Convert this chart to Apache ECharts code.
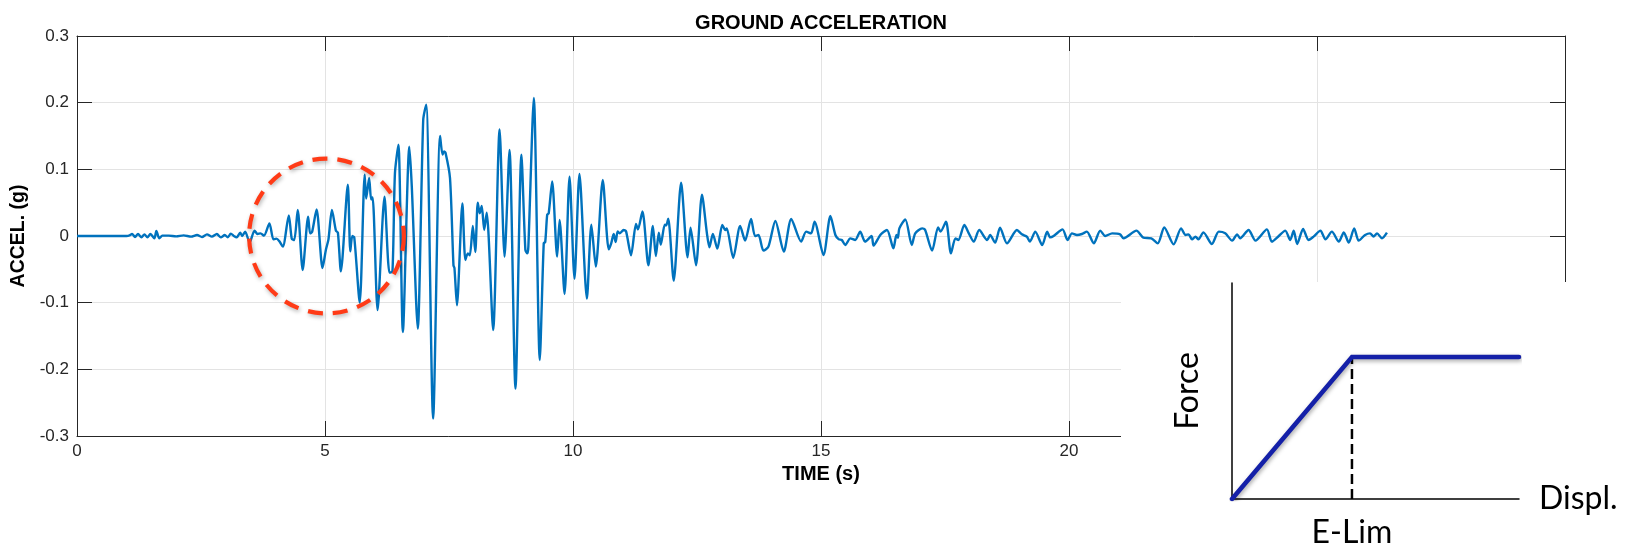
<!DOCTYPE html>
<html><head><meta charset="utf-8">
<script src="https://cdn.jsdelivr.net/npm/echarts@6/dist/echarts.min.js"></script>
<style>html,body{margin:0;padding:0;background:#fff}#c{width:1634px;height:553px}</style>
</head><body><div id="c"></div>
<script>
// ---- Ground acceleration record (time in s, acceleration in g) ----
const timeSec = [
  0, 0.90, 1.00, 1.06, 1.11, 1.17, 1.23, 1.30, 1.36, 1.42, 1.48, 1.56, 1.60, 1.66, 1.72, 1.85,
  2.00, 2.15, 2.30, 2.42, 2.52, 2.62, 2.72, 2.82, 2.90, 2.98,
  3.04, 3.10, 3.17, 3.22, 3.29, 3.33, 3.39, 3.48, 3.58, 3.64, 3.70, 3.77, 3.88, 3.96,
  4.02, 4.08, 4.15, 4.27, 4.33, 4.38, 4.45, 4.55, 4.66, 4.70, 4.74, 4.83, 4.95,
  5.02, 5.07, 5.14, 5.22, 5.26, 5.32, 5.46, 5.51, 5.55, 5.59, 5.70, 5.80, 5.83, 5.89, 5.93, 5.96,
  6.06, 6.20, 6.30, 6.36, 6.41, 6.48, 6.57, 6.70, 6.75, 6.87, 6.98,
  7.04, 7.18, 7.32, 7.37, 7.40, 7.43, 7.52, 7.59, 7.61, 7.66, 7.77, 7.83, 7.88, 7.92, 7.98,
  8.03, 8.08, 8.12, 8.16, 8.21, 8.26, 8.39, 8.52, 8.62, 8.72, 8.84, 8.96,
  9.04, 9.08, 9.10, 9.21, 9.33, 9.41, 9.44, 9.48, 9.51, 9.58, 9.68, 9.73, 9.83, 9.93,
  10.03, 10.13, 10.28, 10.37, 10.46, 10.60, 10.72, 10.77, 10.82, 10.86, 10.90, 10.94,
  11.02, 11.07, 11.17, 11.27, 11.31, 11.40, 11.52, 11.61, 11.67, 11.73, 11.77, 11.85, 11.88, 11.92,
  12.03, 12.18, 12.31, 12.37, 12.48, 12.60, 12.70, 12.75, 12.82, 12.91,
  13.01, 13.07, 13.10, 13.23, 13.37, 13.47, 13.59, 13.67, 13.74, 13.84, 13.94,
  14.08, 14.25, 14.40, 14.60, 14.70, 14.80, 14.87,
  15.05, 15.19, 15.29, 15.36, 15.42, 15.49, 15.59, 15.69, 15.79, 15.89,
  16.02, 16.06, 16.20, 16.33, 16.46, 16.52, 16.55, 16.58, 16.70, 16.83, 16.90,
  17.04, 17.10, 17.24, 17.36, 17.41, 17.52, 17.62, 17.71, 17.77, 17.89, 17.98,
  18.08, 18.19, 18.35, 18.41, 18.51, 18.61, 18.75, 18.95,
  19.05, 19.15, 19.21, 19.32, 19.46, 19.56, 19.62, 19.69, 19.87, 19.97,
  20.06, 20.16, 20.26, 20.36, 20.50, 20.63, 20.73, 20.87,
  21.03, 21.10, 21.36, 21.50, 21.66, 21.79, 21.92,
  22.11, 22.26, 22.35, 22.41, 22.48, 22.55, 22.61, 22.71, 22.88,
  23.02, 23.15, 23.29, 23.39, 23.45, 23.62, 23.76, 23.99,
  24.09, 24.23, 24.36, 24.46, 24.53, 24.60, 24.72, 24.83, 24.93,
  25.07, 25.17, 25.30, 25.44, 25.54, 25.64, 25.75, 25.84, 25.97,
  26.07, 26.14, 26.21, 26.31, 26.41
];
const accelG = [
  0, 0, 0, 0.001, 0.003, -0.0015, 0.003, -0.002, 0.0025, -0.002, 0.003, -0.0035, 0.0075, -0.0035, 0.0005, 0.0005,
  -0.0005, 0.001, -0.001, 0.0015, -0.0015, 0.0025, -0.001, 0.003, -0.002, 0.0015,
  -0.002, 0.0035, -0.0005, -0.002, 0.005, 0, 0.0065, -0.0095, 0.008, 0.003, 0.004, 0.0005, 0.019, -0.005,
  -0.004, -0.008, -0.016, 0.031, -0.004, -0.006, 0.039, -0.051, 0.029, 0.004, 0.006, 0.040, -0.048,
  -0.020, -0.005, 0.039, 0.008, 0.005, -0.053, 0.077, -0.023, 0, -0.002, -0.100, 0.092, 0.056, 0.087, 0.055, 0.058,
  -0.111, 0.059, -0.055, -0.053, 0.094, 0.137, -0.144, 0.134, 0.074, -0.139, 0.174,
  0.197, -0.274, 0.150, 0.122, 0.127, 0.125, 0.087, -0.044, -0.048, -0.104, 0.049, -0.036, -0.026, -0.029, 0.015,
  -0.024, 0.050, 0.034, 0.045, 0.009, 0.035, -0.141, 0.160, -0.031, 0.129, -0.229, 0.122,
  -0.021, -0.026, -0.016, 0.207, -0.186, -0.011, -0.009, 0.032, 0.034, 0.082, -0.031, 0.024, -0.087, 0.089,
  -0.064, 0.093, -0.094, 0.017, -0.046, 0.084, -0.020, -0.011, 0.003, -0.009, 0.007, 0.004,
  0.009, 0.007, -0.029, 0.018, 0.010, 0.037, -0.044, 0.015, -0.030, 0.005, -0.013, 0.017, 0.016, 0.026,
  -0.067, 0.080, -0.032, 0.0125, -0.044, 0.062, 0.004, -0.017, 0.003, -0.019,
  0.0165, 0.009, 0.0115, -0.033, 0.015, -0.007, 0.0255, 0, 0.0015, -0.022, -0.016,
  0.0225, -0.0235, 0.0255, -0.0085, 0.0065, 0.004, 0.0215,
  -0.0285, 0.030, 0.0015, -0.005, -0.006, -0.0135, -0.0035, -0.006, 0.0065, -0.0085,
  0, -0.0145, 0.002, 0.009, -0.0185, 0.0015, -0.0025, 0.0115, 0.025, -0.0135, 0.004,
  0.0115, 0.009, -0.022, 0.013, 0.0065, 0.0215, -0.026, -0.0035, -0.006, 0.0165, 0.004,
  -0.0085, 0.009, -0.006, 0.0015, -0.010, 0.0125, -0.011, 0.009,
  0.0025, -0.001, -0.0085, 0.0065, -0.0135, 0.0065, -0.002, 0, 0.010, -0.006,
  0.004, 0.0015, 0.003, 0.0065, -0.011, 0.008, 0, 0.004,
  0.0025, -0.0035, 0.008, -0.0025, -0.0035, -0.011, 0.013,
  -0.0125, 0.0115, 0.0015, 0.0025, -0.005, -0.001, -0.005, 0.0055, -0.012,
  0.0065, 0.004, -0.007, 0.0025, -0.0035, 0.009, -0.007, 0.010,
  -0.0085, 0, 0.008, -0.006, 0.008, -0.012, 0.0105, -0.006, -0.001,
  0.008, -0.005, 0.0065, -0.0085, 0.0055, -0.010, 0.0115, -0.007, 0.0015,
  0.004, -0.001, 0.004, -0.0035, 0.005
];
const xRange = [0, 30];
const yRange = [-0.3, 0.3];
// ---- Inset: elastic-perfectly-plastic force/displacement curve ----
const displ = [0, 0.418, 1];
const force = [0, 0.657, 0.657];
const eLim = 0.418;
// ---- Annotation circle (data units) ----
const circleCenter = [5.03, 0];
const circleRadiusSec = 1.56;

const axisColor = '#262626';
const fontMain = "'Liberation Sans', Helvetica, Arial, sans-serif";
const fontInset = "Lato, 'Open Sans', sans-serif";

const chart = echarts.init(document.getElementById('c'), null, {renderer: 'canvas'});
const mainTick = {show: true, inside: true, length: 15, lineStyle: {color: axisColor, width: 1}};
const mainLine = {show: true, onZero: false, lineStyle: {color: axisColor, width: 1}};

const option = {
  animation: false,
  backgroundColor: '#fff',
  title: {
    text: 'GROUND ACCELERATION', left: 816, top: 8, textAlign: 'center',
    textStyle: {fontFamily: fontMain, fontWeight: 'bold', fontSize: 20, color: '#000'}
  },
  grid: [
    {left: 77, top: 36, width: 1488, height: 400},
    {left: 1232, top: 283, width: 287, height: 216, zlevel: 1}
  ],
  xAxis: [
    {type: 'value', gridIndex: 0, position: 'bottom', min: xRange[0], max: xRange[1], interval: 5,
     axisLine: mainLine, axisTick: mainTick,
     axisLabel: {fontFamily: fontMain, fontSize: 17, color: axisColor, margin: 7},
     splitLine: {show: true, lineStyle: {color: '#e3e3e3', width: 1}},
     name: 'TIME (s)', nameLocation: 'middle', nameGap: 26,
     nameTextStyle: {fontFamily: fontMain, fontWeight: 'bold', fontSize: 20, color: '#000'}},
    {type: 'value', gridIndex: 0, position: 'top', min: xRange[0], max: xRange[1], interval: 5,
     axisLine: mainLine, axisTick: mainTick, axisLabel: {show: false}, splitLine: {show: false}},
    {type: 'value', gridIndex: 1, min: 0, max: 1, zlevel: 1, z: 5,
     axisLine: {show: true, onZero: false, lineStyle: {color: '#000', width: 1.5}},
     axisTick: {show: false}, splitLine: {show: false},
     axisLabel: {show: true, customValues: [eLim], formatter: () => 'E-Lim',
                 fontFamily: fontInset, fontSize: 32, color: '#000', margin: 18},
     name: 'Displ.', nameLocation: 'end', nameGap: 20,
     nameTextStyle: {fontFamily: fontInset, fontSize: 32, color: '#000'}}
  ],
  yAxis: [
    {type: 'value', gridIndex: 0, position: 'left', min: yRange[0], max: yRange[1], interval: 0.1,
     axisLine: mainLine, axisTick: mainTick,
     axisLabel: {fontFamily: fontMain, fontSize: 17, color: axisColor, margin: 8,
                 formatter: v => String(+v.toFixed(1))},
     splitLine: {show: true, lineStyle: {color: '#e3e3e3', width: 1}},
     name: 'ACCEL. (g)', nameLocation: 'middle', nameGap: 35, nameRotate: 90,
     nameTextStyle: {fontFamily: fontMain, fontWeight: 'bold', fontSize: 19.5, color: '#000'}},
    {type: 'value', gridIndex: 0, position: 'right', min: yRange[0], max: yRange[1], interval: 0.1,
     axisLine: mainLine, axisTick: mainTick, axisLabel: {show: false}, splitLine: {show: false}},
    {type: 'value', gridIndex: 1, min: 0, max: 1, zlevel: 1, z: 5,
     axisLine: {show: true, onZero: false, lineStyle: {color: '#000', width: 1.5}},
     axisTick: {show: false}, axisLabel: {show: false}, splitLine: {show: false},
     name: 'Force', nameLocation: 'middle', nameGap: 28, nameRotate: 90,
     nameTextStyle: {fontFamily: fontInset, fontSize: 32, color: '#000'}}
  ],
  graphic: [
    {type: 'rect', id: 'cover', zlevel: 1, z: 0, silent: true,
     shape: {x: 1121, y: 282, width: 513, height: 271}, style: {fill: '#fff'}}
  ],
  series: [
    {type: 'line', name: 'accel', xAxisIndex: 0, yAxisIndex: 0, showSymbol: false, symbol: 'none',
     smooth: 0.25,
     data: timeSec.map((t, i) => [t, accelG[i]]),
     lineStyle: {color: '#0072BD', width: 2.4}, z: 3},
    {type: 'line', name: 'elim', xAxisIndex: 2, yAxisIndex: 2, symbol: 'none', zlevel: 1, z: 6,
     data: [[eLim, 0], [eLim, force[1]]],
     lineStyle: {color: '#000', width: 2.5, type: [10, 5]}},
    {type: 'line', name: 'fd', xAxisIndex: 2, yAxisIndex: 2, symbol: 'none', zlevel: 1, z: 7,
     data: displ.map((d, i) => [d, force[i]]),
     lineStyle: {color: '#1420a8', width: 4.5, cap: 'round', join: 'miter',
                 shadowBlur: 4, shadowColor: 'rgba(0,0,0,0.35)', shadowOffsetX: 1, shadowOffsetY: 2}}
  ]
};
chart.setOption(option);

const c = chart.convertToPixel({gridIndex: 0}, circleCenter);
const e = chart.convertToPixel({gridIndex: 0}, [circleCenter[0] + circleRadiusSec, circleCenter[1]]);
chart.setOption({
  graphic: [
    {type: 'rect', id: 'cover', zlevel: 1, z: 0, silent: true,
     shape: {x: 1121, y: 282, width: 513, height: 271}, style: {fill: '#fff'}},
    {type: 'circle', id: 'ring', z: 50, silent: true,
     shape: {cx: c[0], cy: c[1], r: e[0] - c[0]},
     style: {fill: 'none', stroke: '#ff3b17', lineWidth: 4.2, lineDash: [15, 10],
             shadowBlur: 4, shadowColor: 'rgba(0,0,0,0.3)', shadowOffsetX: 1, shadowOffsetY: 2}}
  ]
});
</script></body></html>
